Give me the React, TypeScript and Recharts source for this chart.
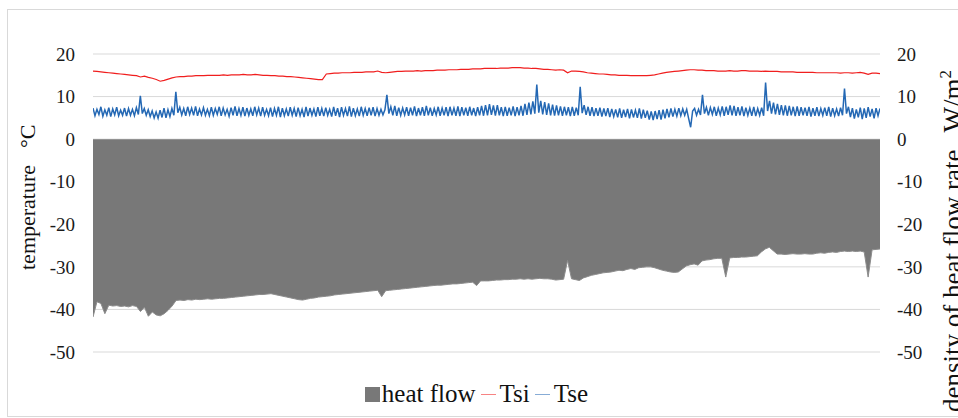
import React from 'react';
import { ComposedChart, Area, Line, XAxis, YAxis, CartesianGrid, Legend } from 'recharts';

// readings along the measuring period (200 samples, left to right)
const heatFlow = [
    -41.8, -38.2, -38.6, -41.0, -39.0, -39.2, -39.1, -39.3, -39.2, -39.4, -39.1, -39.3, -40.5, -39.5, -41.6, -40.6, -41.3, -41.5, -41.0, -40.2,
    -39.2, -37.9, -37.8, -37.9, -37.7, -37.8, -37.6, -37.7, -37.6, -37.5, -37.6, -37.5, -37.4, -37.4, -37.3, -37.2, -37.1, -37.0, -36.9, -36.8,
    -36.7, -36.6, -36.5, -36.5, -36.4, -36.3, -36.5, -36.7, -36.9, -37.1, -37.3, -37.5, -37.7, -37.8, -37.6, -37.4, -37.3, -37.1, -37.0, -36.9,
    -36.8, -36.6, -36.5, -36.4, -36.3, -36.2, -36.1, -36.0, -35.9, -35.8, -35.7, -35.6, -35.5, -37.0, -35.6, -35.5, -35.4, -35.3, -35.2, -35.1,
    -35.0, -34.9, -34.8, -34.7, -34.6, -34.5, -34.4, -34.3, -34.3, -34.2, -34.1, -34.0, -34.0, -33.9, -33.8, -33.7, -33.6, -34.4, -33.3, -33.3,
    -33.3, -33.2, -33.1, -33.1, -33.0, -33.0, -32.9, -32.9, -32.8, -32.9, -32.8, -32.9, -32.8, -32.7, -32.8, -32.8, -32.9, -33.1, -33.0, -32.9,
    -28.5, -32.8, -33.0, -33.2, -32.6, -32.3, -32.0, -31.8, -31.6, -31.4, -31.3, -31.2, -31.0, -30.8, -30.9, -30.6, -30.4, -30.6, -30.2, -30.1,
    -30.0, -30.0, -30.2, -30.5, -30.8, -31.0, -31.2, -31.3, -31.2, -30.5, -29.8, -29.5, -29.3, -29.6, -28.6, -28.4, -28.3, -28.1, -28.0, -28.0,
    -32.4, -27.9, -27.8, -27.8, -27.7, -27.7, -27.6, -27.5, -27.4, -26.5, -25.8, -25.4, -26.2, -27.0, -27.0, -27.1, -27.0, -26.9, -27.0, -27.0,
    -26.9, -27.0, -27.0, -26.8, -26.7, -26.8, -26.6, -26.5, -26.6, -26.4, -26.3, -26.4, -26.3, -26.4, -26.3, -26.5, -32.4, -26.0, -25.9, -25.8,
];

const tsi = [
    16.0, 15.9, 15.8, 15.7, 15.6, 15.5, 15.4, 15.3, 15.2, 15.1, 15.0, 14.9, 14.6, 14.8, 14.5, 14.3, 14.0, 13.6, 13.8, 14.1,
    14.4, 14.6, 14.7, 14.7, 14.8, 14.8, 14.9, 14.9, 14.9, 15.0, 15.0, 15.0, 15.0, 15.1, 15.0, 15.1, 15.1, 15.1, 15.2, 15.1,
    15.1, 15.2, 15.1, 15.0, 15.0, 14.9, 14.9, 14.8, 14.8, 14.7, 14.7, 14.6, 14.5, 14.4, 14.3, 14.2, 14.1, 14.0, 14.0, 15.3,
    15.4, 15.5, 15.5, 15.6, 15.6, 15.6, 15.7, 15.7, 15.7, 15.8, 15.8, 15.8, 16.0, 15.7, 15.6, 15.7, 15.8, 15.9, 15.9, 16.0,
    16.0, 16.0, 16.1, 16.0, 16.1, 16.1, 16.1, 16.2, 16.2, 16.2, 16.3, 16.3, 16.3, 16.4, 16.4, 16.4, 16.5, 16.5, 16.5, 16.6,
    16.6, 16.6, 16.6, 16.7, 16.7, 16.7, 16.8, 16.8, 16.8, 16.7, 16.7, 16.6, 16.6, 16.5, 16.4, 16.4, 16.3, 16.2, 16.3, 16.2,
    15.6, 16.0, 16.0, 15.9, 15.8, 15.6, 15.5, 15.4, 15.3, 15.3, 15.2, 15.1, 15.1, 15.0, 15.0, 15.0, 14.9, 14.9, 14.9, 14.9,
    14.9, 15.0, 15.1, 15.3, 15.5, 15.7, 15.8, 15.9, 16.0, 16.1, 16.2, 16.3, 16.3, 16.2, 16.2, 16.1, 16.1, 16.1, 16.0, 16.0,
    16.0, 16.1, 16.0, 16.0, 16.1, 16.1, 16.0, 16.0, 16.0, 15.9, 16.0, 15.9, 15.9, 15.9, 15.8, 15.8, 15.8, 15.8, 15.7, 15.7,
    15.7, 15.7, 15.7, 15.6, 15.6, 15.6, 15.6, 15.6, 15.6, 15.5, 15.6, 15.6, 15.5, 15.6, 15.7, 15.5, 15.2, 15.5, 15.5, 15.4,
];

// Tse is logged twice as often (400 samples over the same period)
const tse = [
    7.3, 5.5, 7.0, 5.8, 7.6, 5.4, 6.9, 5.6, 7.4, 5.3, 7.1, 5.7, 7.5, 5.5, 6.8, 5.6, 7.3, 5.4, 7.2, 5.6,
    7.0, 5.5, 7.4, 5.8, 10.2, 6.0, 7.2, 5.6, 6.9, 5.3, 6.6, 5.0, 6.4, 4.9, 6.8, 5.1, 7.3, 5.0, 6.9, 5.3,
    7.2, 5.6, 11.1, 6.2, 7.5, 5.7, 7.2, 5.5, 7.6, 5.8, 7.3, 5.6, 7.7, 5.5, 7.1, 5.7, 7.4, 5.6, 7.0, 5.5,
    7.5, 5.6, 7.2, 5.8, 7.6, 5.5, 7.3, 5.7, 7.0, 5.4, 7.4, 5.6, 7.7, 5.5, 7.2, 5.6, 7.5, 5.4, 7.3, 5.6,
    7.1, 5.5, 7.6, 5.7, 7.3, 5.4, 7.5, 5.6, 7.0, 5.5, 7.4, 5.3, 7.2, 5.6, 7.6, 5.2, 7.3, 5.5, 7.1, 5.4,
    7.5, 5.6, 7.2, 5.3, 7.4, 5.5, 7.0, 5.2, 7.6, 5.4, 7.3, 5.6, 7.1, 5.3, 7.5, 5.5, 7.2, 5.4, 7.4, 5.6,
    7.0, 5.3, 7.6, 5.5, 7.3, 5.2, 7.5, 5.6, 7.2, 5.4, 7.7, 5.3, 7.3, 5.5, 7.1, 5.4, 7.6, 5.6, 7.2, 5.5,
    7.4, 5.6, 7.5, 5.4, 7.2, 5.6, 7.0, 5.7, 6.9, 10.4, 6.0, 7.6, 5.6, 7.8, 5.5, 7.4, 5.6, 7.3, 5.7, 7.5,
    5.5, 7.4, 5.6, 7.7, 5.4, 7.3, 5.6, 7.5, 5.5, 7.8, 5.6, 7.4, 5.5, 7.2, 5.7, 7.6, 5.5, 7.3, 5.6, 7.5,
    5.4, 7.6, 5.6, 7.3, 5.5, 7.7, 5.4, 7.5, 5.6, 7.4, 5.5, 7.6, 5.6, 7.3, 5.4, 7.5, 5.6, 7.8, 5.5, 8.0,
    5.6, 8.2, 5.7, 7.9, 5.5, 8.0, 5.6, 7.5, 5.4, 7.6, 5.5, 7.4, 5.6, 7.7, 5.4, 7.5, 5.6, 7.8, 5.5, 8.3,
    5.7, 8.6, 5.8, 8.9, 6.0, 12.8, 6.2, 9.0, 5.8, 8.7, 5.7, 8.4, 5.6, 8.1, 5.5, 7.9, 5.6, 7.7, 5.5, 7.6,
    5.6, 7.5, 5.4, 7.6, 5.5, 7.4, 5.6, 12.3, 6.1, 8.0, 5.7, 7.6, 5.5, 7.5, 5.4, 7.3, 5.5, 7.4, 5.3, 7.2,
    5.4, 7.3, 5.2, 7.1, 5.3, 7.0, 5.1, 7.2, 5.0, 6.9, 5.2, 7.1, 4.9, 7.0, 5.1, 6.8, 5.0, 7.2, 4.8, 6.9,
    5.0, 6.7, 4.6, 6.5, 4.5, 6.6, 4.7, 6.8, 4.6, 6.9, 4.9, 7.1, 5.1, 7.2, 5.3, 7.0, 5.4, 7.3, 5.5, 7.1,
    5.6, 7.0, 4.8, 2.8, 6.6, 7.2, 5.6, 7.0, 5.7, 10.4, 6.0, 7.5, 5.6, 7.4, 5.8, 7.6, 5.5, 7.3, 5.7, 7.7,
    5.5, 7.6, 5.7, 7.9, 5.6, 7.8, 5.5, 7.5, 5.6, 7.7, 5.4, 7.4, 5.6, 7.3, 5.5, 7.6, 5.4, 7.2, 5.6, 7.4,
    5.5, 13.3, 6.6, 9.0, 6.0, 8.6, 5.8, 8.3, 5.7, 8.0, 5.6, 7.9, 5.5, 7.8, 5.6, 7.6, 5.4, 7.7, 5.5, 7.5,
    5.6, 7.4, 5.5, 7.6, 5.3, 7.3, 5.5, 7.5, 5.4, 7.2, 5.6, 7.4, 5.5, 7.6, 5.3, 7.3, 5.5, 7.1, 5.4, 7.4,
    5.6, 11.9, 6.0, 7.6, 5.2, 7.3, 4.8, 7.0, 5.1, 7.4, 4.7, 7.2, 5.0, 7.5, 5.3, 7.1, 4.9, 7.3, 5.5, 7.2,
];

const yTicks = [20, 10, 0, -10, -20, -30, -40, -50];
const legendOrder = ['hf', 'tsi', 'tse'];

const data = heatFlow.map((hf, i) => ({ i, hf, tsi: tsi[i] }));
const tseData = tse.map((v, k) => ({ i: (k * (heatFlow.length - 1)) / (tse.length - 1), tse: v }));

const FONT = '"Liberation Serif", "Times New Roman", serif';
const tickStyle = { fontFamily: FONT, fontSize: 19, fill: '#1a1a1a' };

const LegendContent = (props: any) => {
    const items = [...(props.payload || [])].sort(
        (a: any, b: any) => legendOrder.indexOf(a.dataKey) - legendOrder.indexOf(b.dataKey)
    );
    return (
        <div style={{ display: 'flex', justifyContent: 'center', alignItems: 'center', fontFamily: FONT, fontSize: 25, color: '#111', lineHeight: '30px' }}>
            {items.map((it: any) => (
                <span key={it.value} style={{ display: 'flex', alignItems: 'center', marginRight: 5 }}>
                    {it.dataKey === 'hf' ? (
                        <span style={{ width: 15, height: 15, background: '#787878', marginRight: 2 }} />
                    ) : (
                        <span style={{ width: 15, height: 1, background: it.color, marginRight: 4, opacity: 0.55 }} />
                    )}
                    {it.value}
                </span>
            ))}
        </div>
    );
};

export default function App() {
    return (
        <div style={{ position: 'absolute', left: 0, top: 0, width: 958, height: 418, background: '#fff', overflow: 'hidden' }}>
            <div style={{ position: 'absolute', left: 7, top: 9, width: 970, height: 406, border: '1px solid #d9d9d9' }} />
            <ComposedChart width={958} height={418} data={data} margin={{ top: 54, right: 0, bottom: 66, left: 0 }}
                style={{ position: 'absolute', left: 0, top: 0 }}>
                <CartesianGrid vertical={false} stroke="#d9d9d9" yAxisId="left" />
                <XAxis dataKey="i" type="number" domain={[0, heatFlow.length - 1]} allowDataOverflow hide />
                <YAxis yAxisId="left" width={93} domain={[-50, 20]} ticks={yTicks} interval={0}
                    axisLine={false} tickLine={false} tickSize={0} tickMargin={18} tick={tickStyle}
                    label={{
                        content: () => (
                            <text x={35} y={270} transform="rotate(-90 35 270)" textAnchor="start"
                                fontFamily={FONT} fontSize={22} fill="#111">
                                <tspan>temperature</tspan>
                                <tspan dx={17}>°C</tspan>
                            </text>
                        ),
                    }} />
                <YAxis yAxisId="right" orientation="right" width={78} domain={[-50, 20]} ticks={yTicks} interval={0}
                    axisLine={false} tickLine={false} tickSize={0} tickMargin={17} tick={{ ...tickStyle, textAnchor: 'start' }}
                    label={{
                        content: () => (
                            <text x={962} y={412} transform="rotate(-90 962 412)" textAnchor="start"
                                fontFamily={FONT} fontSize={27} fill="#111">
                                <tspan>density of heat flow rate</tspan>
                                <tspan dx={17}>W/m</tspan>
                                <tspan dy={-11} fontSize={17}>2</tspan>
                            </text>
                        ),
                    }} />
                <Area yAxisId="right" type="linear" dataKey="hf" name="heat flow" fill="#787878" fillOpacity={1}
                    stroke="#8c8c8c" strokeWidth={1} isAnimationActive={false} />
                <Line yAxisId="left" type="linear" dataKey="tsi" name="Tsi" stroke="#f01e1e" strokeWidth={1.2}
                    dot={false} isAnimationActive={false} />
                <Line yAxisId="left" type="linear" data={tseData} dataKey="tse" name="Tse" stroke="#2468b4" strokeWidth={1.5}
                    dot={false} isAnimationActive={false} />
                <Legend layout="horizontal" verticalAlign="middle" align="center" content={<LegendContent />}
                    wrapperStyle={{ top: 379, left: 0, width: 958, height: 32 }} />
            </ComposedChart>
        </div>
    );
}
